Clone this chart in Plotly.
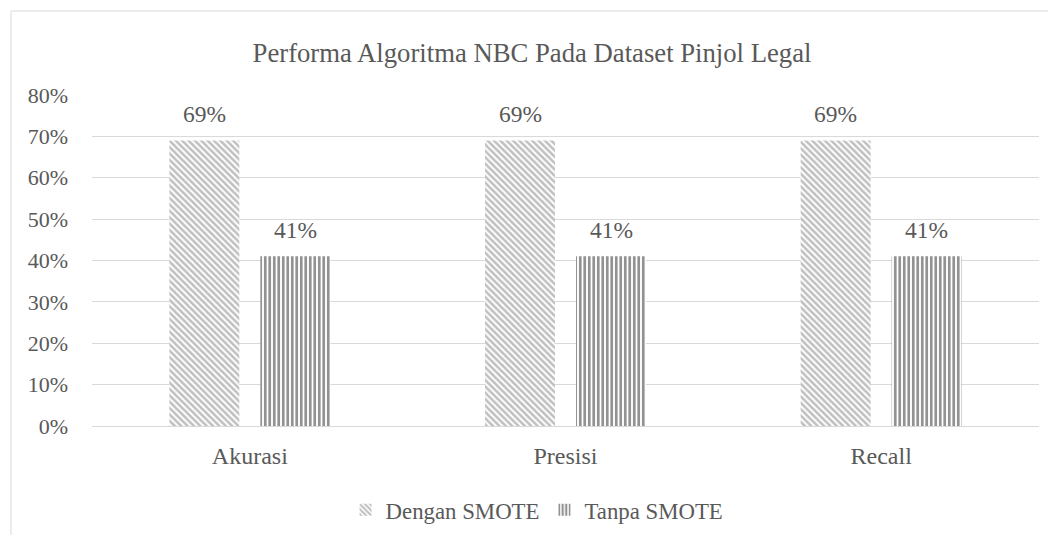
import plotly.graph_objects as go

categories = ["Akurasi", "Presisi", "Recall"]
dengan_smote = [0.69, 0.69, 0.69]
tanpa_smote = [0.41, 0.41, 0.41]
series_names = ["Dengan SMOTE", "Tanpa SMOTE"]
title_text = "Performa Algoritma NBC Pada Dataset Pinjol Legal"
tick_vals = [0, 0.1, 0.2, 0.3, 0.4, 0.5, 0.6, 0.7, 0.8]
tick_text = ["0%", "10%", "20%", "30%", "40%", "50%", "60%", "70%", "80%"]

FONT = "Liberation Serif, Times New Roman, serif"
TXT = "#595959"
BARGAP = 0.4235
GROUPGAP = 0.231
W, H = 1048, 527  # page body has an 8px margin
L, R, T, B = 84, 17, 87, 109
PW, PH = W - L - R, H - T - B

fig = go.Figure()
fig.add_trace(go.Bar(
    x=categories, y=dengan_smote, name=series_names[0],
    marker=dict(color="white", line=dict(width=0),
                pattern=dict(shape="\\", fgcolor="#808080", bgcolor="white",
                             size=4.5, solidity=0.55)),
))
fig.add_trace(go.Bar(
    x=categories, y=tanpa_smote, name=series_names[1],
    marker=dict(color="white", line=dict(width=0),
                pattern=dict(shape="|", fgcolor="#262626", bgcolor="white",
                             size=4.5, solidity=0.6)),
))

# data labels placed above each bar via the category axis index
slot = (1 - BARGAP) / 2
annotations = []
for i, v in enumerate(dengan_smote):
    annotations.append(dict(x=i - slot / 2, y=v, xref="x", yref="y", text=f"{v:.0%}",
                            showarrow=False, yanchor="middle", yshift=27,
                            font=dict(family=FONT, size=23.5, color=TXT)))
for i, v in enumerate(tanpa_smote):
    annotations.append(dict(x=i + slot / 2, y=v, xref="x", yref="y", text=f"{v:.0%}",
                            showarrow=False, yanchor="middle", yshift=26.5,
                            font=dict(family=FONT, size=23.5, color=TXT)))

fig.update_layout(
    width=W, height=H,
    margin=dict(l=L, r=R, t=T, b=B, autoexpand=False),
    paper_bgcolor="white", plot_bgcolor="white",
    font=dict(family=FONT, color=TXT, size=22),
    title=dict(text=title_text, x=0.5, xanchor="center", y=1 - 45 / H, yanchor="middle",
               font=dict(family=FONT, size=26.7, color=TXT)),
    barmode="group", bargap=BARGAP, bargroupgap=GROUPGAP,
    showlegend=True,
    legend=dict(orientation="h", x=0.47, xanchor="center", y=(T + PH - 502) / PH,
                yanchor="middle",
                font=dict(family=FONT, size=22.8, color=TXT), itemwidth=30,
                traceorder="normal"),
    yaxis=dict(range=[0, 0.8], tickvals=tick_vals, ticktext=tick_text,
               showgrid=True, gridcolor="#d9d9d9", gridwidth=1, automargin=False,
               zeroline=False, showline=False, ticks="", ticklabelstandoff=23,
               tickfont=dict(family=FONT, size=22, color=TXT)),
    xaxis=dict(showline=True, linecolor="#d9d9d9", linewidth=1, ticks="", automargin=False,
               showgrid=False, ticklabelstandoff=8,
               tickfont=dict(family=FONT, size=24, color=TXT)),
    annotations=annotations,
    shapes=[dict(type="rect", xref="paper", yref="paper",
                 x0=(3 - L) / PW, x1=1.2, y0=-0.5, y1=(T + PH - 3) / PH,
                 line=dict(color="#d9d9d9", width=1), fillcolor="rgba(0,0,0,0)",
                 layer="below")],
)

fig.write_html("out.html")
